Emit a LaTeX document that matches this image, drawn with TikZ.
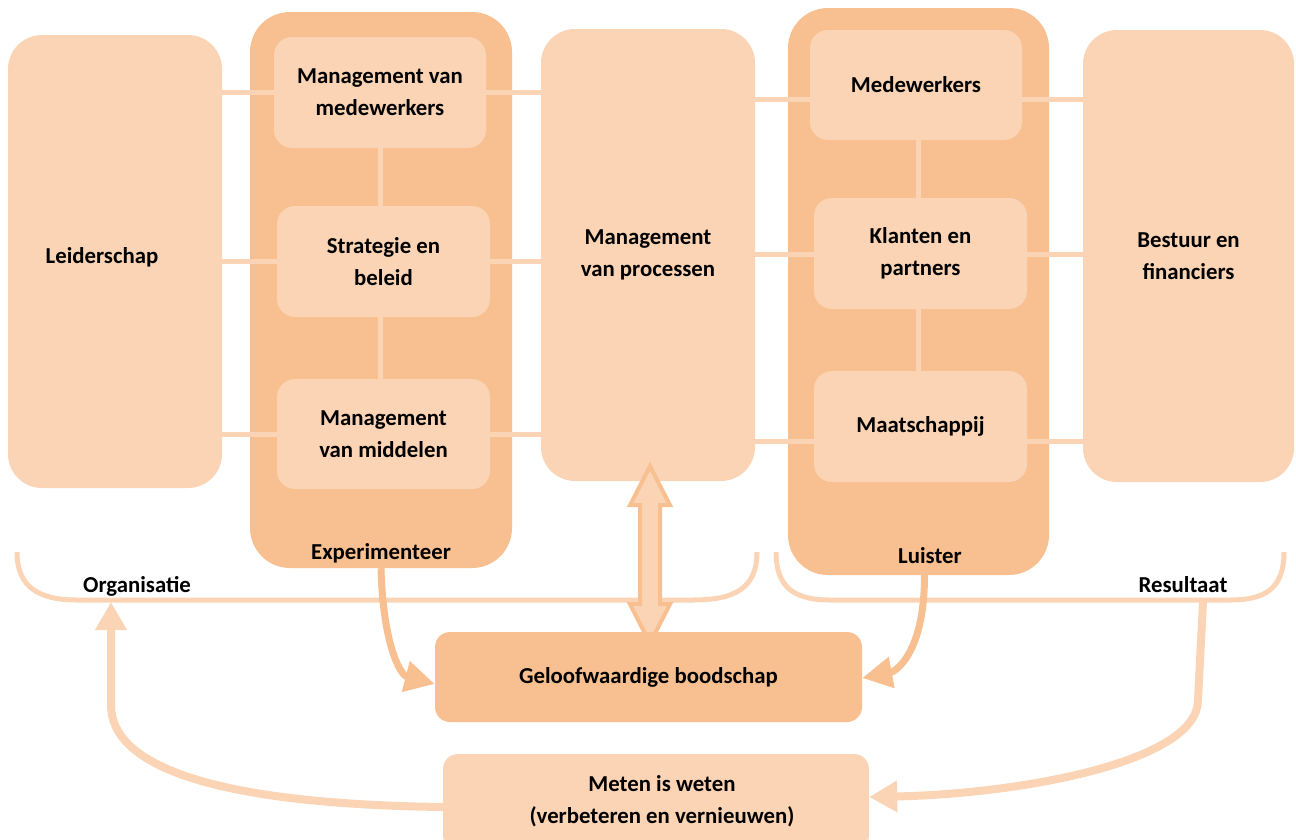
\documentclass[tikz,border=0pt]{standalone}
\usepackage{fontspec}
\setmainfont{Carlito}
\usetikzlibrary{arrows.meta,calc}
\definecolor{peachlight}{RGB}{250,212,180}
\definecolor{peachdark}{RGB}{248,192,144}
\begin{document}
\begin{tikzpicture}[x=1pt,y=-1pt,
  every node/.style={font=\fontsize{22.8}{32}\selectfont\bfseries, align=center, inner sep=0pt},
  panel/.style={fill=peachdark, rounded corners=40pt},
  tile/.style={fill=peachlight, rounded corners=18pt},
  bigtile/.style={fill=peachlight, rounded corners=34pt},
  msgbox/.style={fill=peachdark, rounded corners=15pt},
  link/.style={draw=peachlight, line width=5pt},
  brace/.style={draw=peachlight, line width=5pt},
  flowdark/.style={draw=peachdark, line width=7pt, -{Triangle[length=30pt,width=30pt]}},
  flowlight/.style={draw=peachlight, line width=8pt, -{Triangle[length=28pt,width=30pt]}},
  dblarrow/.style={fill=peachlight, draw=peachdark, line width=4pt, line join=miter},
]
\useasboundingbox (0,0) rectangle (1296,839);

% grouping panels
\node[panel, minimum width=262, minimum height=556] (panelE) at (381,290) {};
\node[panel, minimum width=261, minimum height=567] (panelL) at (918.5,291.5) {};
\node[anchor=base] (expl) at (381,559) {Experimenteer};
\node[anchor=base] (luil) at (930,563) {Luister};

% organisation side
\node[bigtile, minimum width=214, minimum height=453] (lead) at (115,261.5) {};
\node (leadtxt) at (102,257) {Leiderschap};
\node[tile, minimum width=212, minimum height=111] (mvm) at (380,92.5) {Management van\\medewerkers};
\node[tile, minimum width=213, minimum height=111] (strat) at (383.5,261.5) {Strategie en\\beleid};
\node[tile, minimum width=213, minimum height=110] (midd) at (383.5,434) {Management\\van middelen};
\node[bigtile, minimum width=214, minimum height=452] (proc) at (648,255) {Management\\van processen};

% result side
\node[tile, minimum width=212, minimum height=110] (med) at (916,85) {Medewerkers};
\node[tile, minimum width=213, minimum height=111] (klant) at (920.5,253.5) {Klanten en\\partners};
\node[tile, minimum width=213, minimum height=111] (maat) at (920.5,426.5) {Maatschappij};
\node[bigtile, minimum width=211, minimum height=452] (best) at (1188.5,256) {Bestuur en\\financiers};

% links between the columns
\draw[link] (lead.east |- mvm.west) -- (mvm.west);
\draw[link] (lead.east |- strat.west) -- (strat.west);
\draw[link] (lead.east |- midd.west) -- (midd.west);
\draw[link] (mvm.east) -- (proc.west |- mvm.east);
\draw[link] (strat.east) -- (proc.west |- strat.east);
\draw[link] (midd.east) -- (proc.west |- midd.east);
\draw[link] (mvm.south) -- (mvm.south |- strat.north);
\draw[link] (mvm.south |- strat.south) -- (mvm.south |- midd.north);

\coordinate (medline) at ($(med.west)+(0,14)$);
\coordinate (klantline) at ($(klant.west)+(0,0.5)$);
\coordinate (maatline) at ($(maat.west)+(0,14.5)$);
\draw[link] (proc.east |- medline) -- (medline);
\draw[link] (proc.east |- klantline) -- (klantline);
\draw[link] (proc.east |- maatline) -- (maatline);
\draw[link] (med.east |- medline) -- (best.west |- medline);
\draw[link] (klant.east |- klantline) -- (best.west |- klantline);
\draw[link] (maat.east |- maatline) -- (best.west |- maatline);
\draw[link] (med.south -| 918,0) -- (klant.north -| 918,0);
\draw[link] (klant.south -| 918,0) -- (maat.north -| 918,0);

% brackets under the two halves
\draw[brace] (17,552) .. controls (17,588) and (40,600) .. (77,600) -- (693,600)
  .. controls (735,600) and (757,588) .. (757,552);
\draw[brace] (776,552) .. controls (776,588) and (795,600) .. (830,600) -- (1230,600)
  .. controls (1266,600) and (1284,588) .. (1284,552);
\node[anchor=base] (orgl) at (137,592) {Organisatie};
\node[anchor=base] (resl) at (1183,592) {Resultaat};
\coordinate (orgfoot) at (111,602);
\coordinate (resfoot) at (1203,602);

% two-way arrow between processes and the message
\begin{scope}[shift={(proc.south)}]
  \draw[dblarrow] (2,-15) -- (22,24) -- (12,24) -- (12,123) -- (22,123) -- (2,162)
    -- (-18,123) -- (-8,123) -- (-8,24) -- (-18,24) -- cycle;
\end{scope}

% message and measuring boxes
\node[msgbox, minimum width=427, minimum height=90] (gelo) at (648.5,677) {Geloofwaardige boodschap};
\node[tile, rounded corners=15pt, minimum width=426, minimum height=96] (meten) at (656,802) {};
\node (metentxt) at (662,801) {Meten is weten\\(verbeteren en vernieuwen)};

% flows
\draw[flowdark] (panelE.south) .. controls +(2,75) and +(-35,-9) .. ($(gelo.west)+(0,7)$);
\draw[flowdark] ($(panelL.south)+(6,0)$) .. controls +(0,80) and +(32,-6) .. ($(gelo.east)+(0,1)$);
\draw[flowlight] (resfoot) -- (1198,700) .. controls (1198,762) and (1020,794) .. ($(meten.east)+(0,-5)$);
\draw[flowlight] ($(meten.west)+(0,5)$) .. controls (210,804) and (111,765) .. (111,705) -- (orgfoot);
\end{tikzpicture}
\end{document}
